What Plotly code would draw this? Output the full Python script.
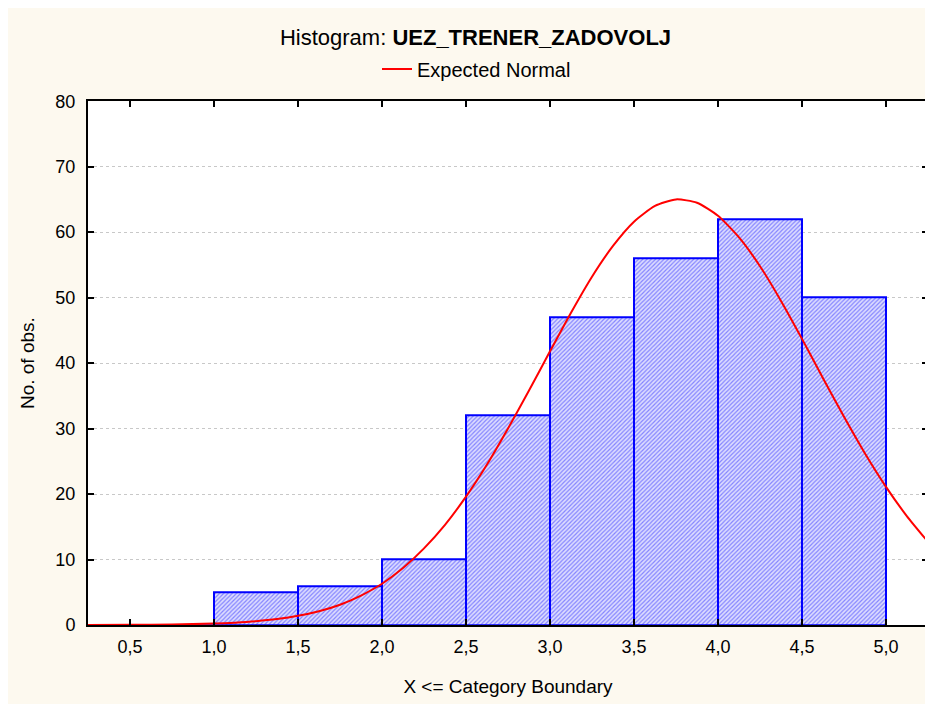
import plotly.graph_objects as go

# Histogram bins (upper boundaries) and counts
bin_upper = [1.0, 1.5, 2.0, 2.5, 3.0, 3.5, 4.0, 4.5, 5.0]
counts = [0, 5, 6, 10, 32, 47, 56, 62, 50]
bin_width = 0.5

# Expected normal curve
curve_x = [0.25, 0.5, 0.75, 1.0, 1.125, 1.25, 1.375, 1.5, 1.625, 1.75, 1.875,
           2.0, 2.125, 2.25, 2.375, 2.5, 2.625, 2.75, 2.875, 3.0, 3.125,
           3.25, 3.375, 3.5, 3.625, 3.75, 3.875, 4.0, 4.125, 4.25, 4.375,
           4.5, 4.625, 4.75, 4.875, 5.0, 5.125, 5.25]
curve_y = [0.01, 0.02, 0.07, 0.22, 0.36, 0.58, 0.91, 1.4, 2.1, 3.1, 4.5,
           6.3, 8.7, 11.7, 15.3, 19.6, 24.5, 30.0, 35.8, 41.8, 47.7,
           53.2, 57.9, 61.6, 64.0, 65.0, 64.5, 62.5, 59.2, 54.8, 49.5,
           43.7, 37.7, 31.8, 26.2, 21.1, 16.6, 12.7]

x_ticks = [0.5, 1.0, 1.5, 2.0, 2.5, 3.0, 3.5, 4.0, 4.5, 5.0]
y_ticks = [0, 10, 20, 30, 40, 50, 60, 70, 80]

font_family = "Liberation Sans, Arial, sans-serif"

bar_centers = [u - bin_width / 2 for u in bin_upper]

fig = go.Figure()
fig.add_trace(go.Bar(
    x=bar_centers, y=counts, width=[bin_width] * len(counts),
    marker=dict(color="#ffffff",
                line=dict(color="#0000ff", width=2),
                pattern=dict(shape="/", fgcolor="#2a2aff", bgcolor="#dcdcff",
                             size=3, solidity=0.4, fillmode="overlay")),
    showlegend=False, hoverinfo="x+y",
))
fig.add_trace(go.Scatter(
    x=curve_x, y=curve_y, mode="lines", name="Expected Normal",
    line=dict(color="#ff0000", width=2, shape="spline", smoothing=0.6),
))

# figure is offset 8px by the page margin; geometry in figure pixels
W, H = 925, 696
L, R, T, B = 80, 3, 87, 79

fig.update_layout(
    width=W, height=H,
    margin=dict(l=L, r=R, t=T, b=B, pad=0),
    paper_bgcolor="#fdf9ef",
    plot_bgcolor="#ffffff",
    separators=",.",
    font=dict(family=font_family, size=18, color="#000000"),
    title=dict(text="Histogram: <b>UEZ_TRENER_ZADOVOLJ</b>",
               x=467.5 / W, xref="container", xanchor="center",
               y=1 - 29 / H, yref="container", yanchor="middle",
               font=dict(size=22, family=font_family)),
    legend=dict(orientation="h", x=468.5 / W, xref="container", xanchor="center",
                y=1 - 61 / H, yref="container", yanchor="middle",
                bgcolor="rgba(0,0,0,0)", font=dict(size=20)),
    bargap=0,
    xaxis=dict(range=[0.25, 5.25], tickvals=x_ticks, tickformat=".1f",
               ticks="inside", ticklen=6, tickwidth=2, tickcolor="#000000",
               showline=True, linecolor="#000000", linewidth=2, mirror="ticks",
               showgrid=False, zeroline=False, ticklabelstandoff=4,
               title=dict(text="X <= Category Boundary", standoff=24,
                          font=dict(size=19))),
    yaxis=dict(range=[0, 80], tickvals=y_ticks,
               ticks="inside", ticklen=6, tickwidth=2, tickcolor="#000000",
               showline=True, linecolor="#000000", linewidth=2, mirror="ticks",
               showgrid=True, gridcolor="#c8c8c8", griddash="dot", gridwidth=1,
               zeroline=False, ticklabelstandoff=7,
               title=dict(text="No. of obs.", standoff=16,
                          font=dict(size=19))),
)

fig.write_html("out.html")
